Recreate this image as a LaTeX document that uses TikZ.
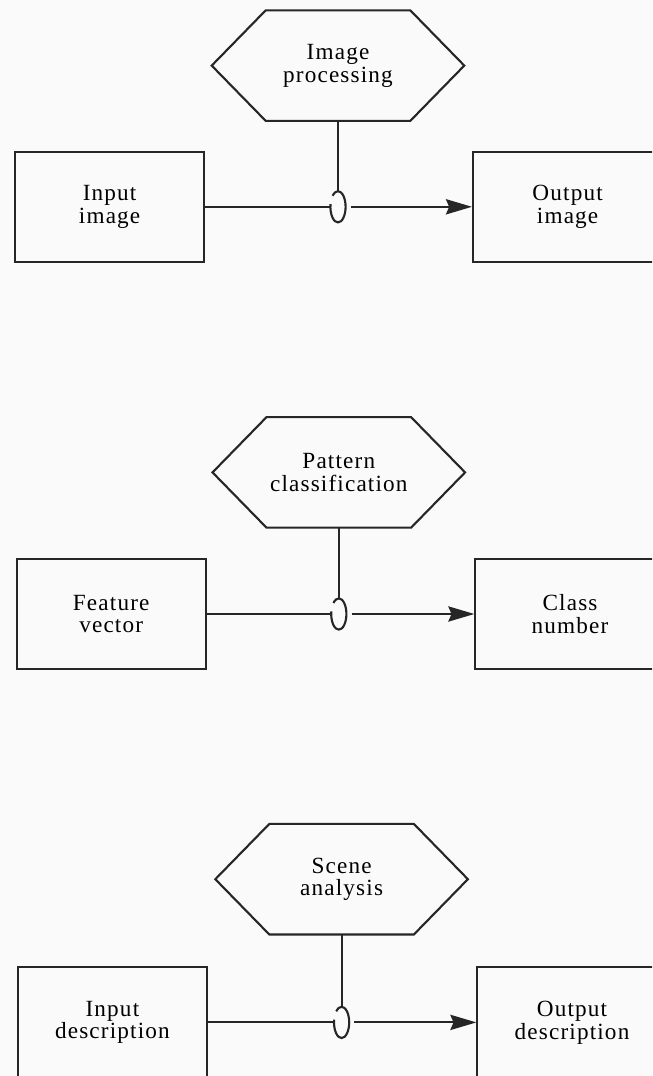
\documentclass[tikz,border=0pt]{standalone}
\usepackage{fontspec}
\setmainfont{Liberation Serif}[LetterSpace=5]
\usetikzlibrary{arrows.meta}
\tikzset{
  block/.style={shape=rectangle, draw=black!85, line width=1.5pt, minimum width=4.73cm, minimum height=2.75cm, align=center, font=\fontsize{16.5}{16.2}\selectfont},
  proc/.style={shape=rectangle, minimum width=3.6cm, minimum height=2.75cm, inner sep=0pt, align=center, font=\fontsize{16.5}{16.2}\selectfont},
  wire/.style={-, line width=1.5pt, draw=black!85},
  flow/.style={-{Stealth[length=0.65cm,width=0.38cm,inset=0.08cm]}, line width=1.5pt, draw=black!85},
}
\newcommand{\hexframe}[1]{\draw[wire] (#1.north west) -- (#1.north east) -- ([xshift=1.35cm]#1.east) -- (#1.south east) -- (#1.south west) -- ([xshift=-1.35cm]#1.west) -- cycle;}
\newcommand{\ring}[1]{\draw[wire] ([shift={(135:0.19cm and 0.39cm)}]#1) arc[start angle=135, end angle=-190, x radius=0.19cm, y radius=0.39cm];}
\begin{document}
\begin{tikzpicture}
\useasboundingbox (0,0) rectangle (16.3,-26.9);
\clip (0,0) rectangle (16.3,-26.9);
\fill[black!2] (0,0) rectangle (16.3,-26.9);
\node[proc] (hexA) at (8.45,-1.64) {Image\\processing};
\node[block] (inA) at (2.74,-5.17) {Input\\image};
\node[block] (outA) at (14.19,-5.17) {Output\\image};
\coordinate (kA) at (8.45,-5.17);
\node[proc] (hexB) at (8.47,-11.81) {Pattern\\classification};
\node[block] (inB) at (2.78,-15.35) {Feature\\vector};
\node[block] (outB) at (14.25,-15.35) {Class\\number};
\coordinate (kB) at (8.47,-15.35);
\node[proc] (hexC) at (8.54,-21.98) {Scene\\analysis};
\node[block] (inC) at (2.81,-25.56) {Input\\description};
\node[block] (outC) at (14.3,-25.56) {Output\\description};
\coordinate (kC) at (8.54,-25.56);
\hexframe{hexA}
\hexframe{hexB}
\hexframe{hexC}
\ring{kA}
\ring{kB}
\ring{kC}
\draw [wire] (hexA.south) -- ([yshift=0.39cm]kA);
\draw [wire] (inA) -- ([xshift=-0.19cm]kA);
\draw [flow] ([xshift=0.32cm]kA) -- (outA);
\draw [wire] (hexB.south) -- ([yshift=0.39cm]kB);
\draw [wire] (inB) -- ([xshift=-0.19cm]kB);
\draw [flow] ([xshift=0.32cm]kB) -- (outB);
\draw [wire] (hexC.south) -- ([yshift=0.39cm]kC);
\draw [wire] (inC) -- ([xshift=-0.19cm]kC);
\draw [flow] ([xshift=0.32cm]kC) -- (outC);
\end{tikzpicture}
\end{document}
